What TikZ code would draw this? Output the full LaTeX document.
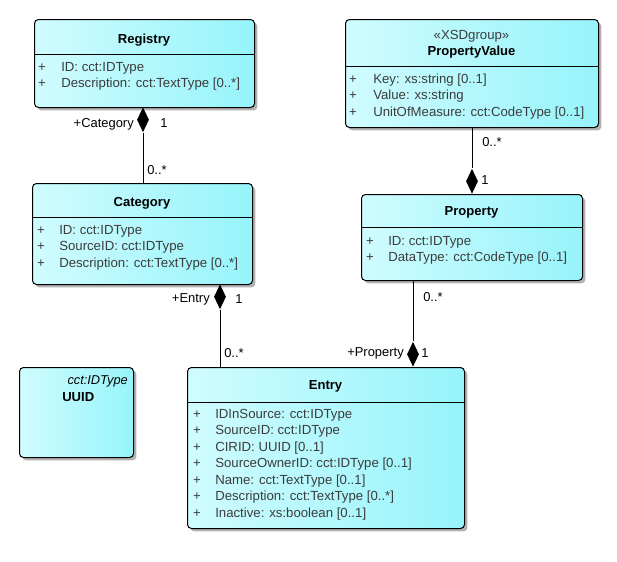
\documentclass[tikz,border=0pt]{standalone}
\usepackage{fontspec}
\setmainfont{Liberation Sans}
\usetikzlibrary{shapes.geometric,shadows}
\definecolor{cyL}{RGB}{208,252,255}
\definecolor{cyR}{RGB}{150,244,250}
\definecolor{attrc}{RGB}{60,60,60}
\tikzset{
  cls/.style={draw=black, line width=0.75pt, rounded corners=3pt, left color=cyL, right color=cyR,
    drop shadow={shadow xshift=2.2pt, shadow yshift=-2.2pt, fill=black, opacity=0.3},
    inner sep=0pt, anchor=north west},
  sepline/.style={line width=0.75pt},
  ttl/.style={font=\fontsize{9.8}{11}\selectfont\bfseries, inner sep=0pt},
  stereo/.style={font=\fontsize{9.9}{11}\selectfont, text=attrc, inner sep=0pt},
  plus/.style={font=\fontsize{9.9}{11}\selectfont, text=attrc, inner sep=0pt},
  attrtext/.style={font=\fontsize{9.9}{11}\selectfont, text=attrc, inner sep=0pt, anchor=west},
  lbl/.style={font=\fontsize{9.7}{11}\selectfont, inner sep=0pt},
  dia/.style={diamond, fill=black, draw=none, inner sep=0pt, minimum width=12*0.75pt, minimum height=25*0.75pt},
  conn/.style={line width=0.75pt}
}
\newcommand\attline[5]{\node[plus] (#1-plus) at (#2,#4) {+}; \node[attrtext] (#1-text) at (#3,#4) {#5};}
\begin{document}
\begin{tikzpicture}[x=0.75pt,y=-0.75pt]
\fill[white] (0,0) rectangle (617,561);
\useasboundingbox (0,0) rectangle (617,561);

% Registry
\node[cls, minimum width=220*0.75pt, minimum height=88*0.75pt] (reg) at (34,19) {};
\draw[sepline] (reg.west |- 0,54) -- (reg.east |- 0,54);
\node[ttl] (regT) at (144,40) {Registry};
\attline{ra}{42}{61}{68}{ID: cct:IDType}
\attline{rb}{42}{61}{84}{Description: cct:TextType [0..*]}

% Category
\node[cls, minimum width=220*0.75pt, minimum height=101*0.75pt] (cat) at (32,183) {};
\draw[sepline] (cat.west |- 0,217) -- (cat.east |- 0,217);
\node[ttl] (catT) at (142,203) {Category};
\attline{cA}{41}{59}{231}{ID: cct:IDType}
\attline{cB}{41}{59}{247}{SourceID: cct:IDType}
\attline{cC}{41}{59}{264}{Description: cct:TextType [0..*]}

% UUID
\node[cls, minimum width=114*0.75pt, minimum height=90*0.75pt] (uuid) at (19,367) {};
\node[lbl, anchor=east, font=\fontsize{9.6}{11}\selectfont\itshape] (uuidS) at (128,381) {cct:IDType};
\node[ttl, anchor=west] (uuidT) at (62,397) {UUID};

% PropertyValue
\node[cls, minimum width=253*0.75pt, minimum height=108*0.75pt] (pv) at (345,19) {};
\draw[sepline] (pv.west |- 0,66) -- (pv.east |- 0,66);
\node[stereo] (pvS) at (471.5,36) {«XSDgroup»};
\node[ttl] (pvT) at (471.5,52) {PropertyValue};
\attline{pa}{353}{373}{80}{Key: xs:string [0..1]}
\attline{pb}{353}{373}{96}{Value: xs:string}
\attline{pc}{353}{373}{113}{UnitOfMeasure: cct:CodeType [0..1]}

% Property
\node[cls, minimum width=221*0.75pt, minimum height=86*0.75pt] (prop) at (361,194) {};
\draw[sepline] (prop.west |- 0,227) -- (prop.east |- 0,227);
\node[ttl] (propT) at (471.5,212) {Property};
\attline{qa}{370}{388}{242}{ID: cct:IDType}
\attline{qb}{370}{388}{258}{DataType: cct:CodeType [0..1]}

% Entry
\node[cls, minimum width=277*0.75pt, minimum height=161*0.75pt] (ent) at (187,367) {};
\draw[sepline] (ent.west |- 0,402) -- (ent.east |- 0,402);
\node[ttl] (entT) at (325.5,386) {Entry};
\attline{ea}{197}{215}{415}{IDInSource: cct:IDType}
\attline{eb}{197}{215}{431}{SourceID: cct:IDType}
\attline{ec}{197}{215}{448}{CIRID: UUID [0..1]}
\attline{ed}{197}{215}{464}{SourceOwnerID: cct:IDType [0..1]}
\attline{ee}{197}{215}{481}{Name: cct:TextType [0..1]}
\attline{ef}{197}{215}{497}{Description: cct:TextType [0..*]}
\attline{eg}{197}{215}{514}{Inactive: xs:boolean [0..1]}

% Registry -- Category
\node[dia, anchor=north] (d1) at (143,107) {};
\draw[conn] (d1.south) -- (d1.south |- cat.north);
\node[lbl, anchor=east] (l1a) at (134,124) {+Category};
\node[lbl, anchor=west] (l1b) at (160,123) {1};
\node[lbl, anchor=west] (l1c) at (147,170) {0..*};

% Category -- Entry
\node[dia, anchor=north] (d2) at (220,284) {};
\draw[conn] (d2.south) -- (d2.south |- ent.north);
\node[lbl, anchor=east] (l2a) at (210,299) {+Entry};
\node[lbl, anchor=west] (l2b) at (235,299) {1};
\node[lbl, anchor=west] (l2c) at (224,353) {0..*};

% PropertyValue -- Property
\node[dia, anchor=south] (d3) at (472,194) {};
\draw[conn] (d3.north |- pv.south) -- (d3.north);
\node[lbl, anchor=west] (l3a) at (482,142) {0..*};
\node[lbl, anchor=west] (l3b) at (481,180) {1};

% Property -- Entry
\node[dia, anchor=south] (d4) at (413,367) {};
\draw[conn] (d4.north |- prop.south) -- (d4.north);
\node[lbl, anchor=west] (l4a) at (423,297) {0..*};
\node[lbl, anchor=east] (l4b) at (404,353) {+Property};
\node[lbl, anchor=west] (l4c) at (421,353) {1};
\end{tikzpicture}
\end{document}
